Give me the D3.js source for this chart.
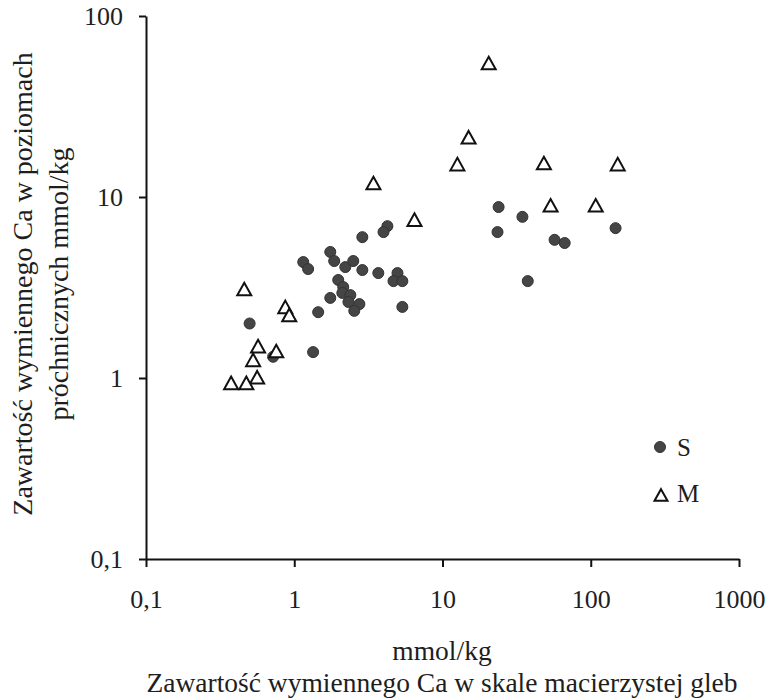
<!DOCTYPE html>
<html><head><meta charset="utf-8">
<script src="https://cdn.jsdelivr.net/npm/d3@7"></script>
<style>html,body{margin:0;padding:0;background:#fff;}svg{display:block;}</style>
</head><body>
<script>
// Series S (circles): [x, y]
const seriesS_x = [0.50,0.72,1.34,1.45,1.15,1.24,1.75,1.86,1.75,2.88,4.25,4.0,2.21,2.50,2.88,3.69,4.97,4.67,5.36,5.36,1.98,2.14,2.11,2.39,2.32,2.75,2.54,23.9,34.6,23.5,57,66.7,147,37.6];
const seriesS_y = [2.0,1.31,1.39,2.31,4.37,4.0,4.97,4.43,2.77,6.0,6.9,6.4,4.1,4.43,3.95,3.8,3.8,3.43,3.43,2.47,3.48,3.18,2.95,2.87,2.63,2.56,2.35,8.8,7.77,6.4,5.8,5.57,6.73,3.43];
// Series M (triangles)
const seriesM_x = [20.5,15.0,12.6,48.3,152,53.6,108,6.47,3.42,0.46,0.87,0.925,0.57,0.756,0.528,0.562,0.375,0.475];
const seriesM_y = [55,21.4,15.2,15.4,15.2,9.0,9.0,7.5,11.95,3.1,2.47,2.23,1.50,1.41,1.26,1.01,0.94,0.94];
const xTicks = [0.1,1,10,100,1000];
const yTicks = [0.1,1,10,100];
const seriesNames = ["S","M"];
const xTitle1 = "mmol/kg";
const xTitle2 = "Zawartość wymiennego Ca w skale macierzystej gleb";
const yTitle1 = "Zawartość wymiennego Ca w poziomach";
const yTitle2 = "próchnicznych mmol/kg";

const W = 770, H = 700;
const FONT = "'Liberation Serif','Times New Roman',serif";
const TXT = "#1e1e1e";
const svg = d3.select("body").append("svg").attr("width", W).attr("height", H)
  .style("font-family", FONT);

const x = d3.scaleLog().domain([0.1, 1000]).range([146, 739]);
const y = d3.scaleLog().domain([0.1, 100]).range([559, 16]);
const fmt = v => String(v).replace(".", ",");

const xAxis = svg.append("g").attr("transform", `translate(0,${y(0.1)})`)
  .call(d3.axisBottom(x).tickValues(xTicks).tickFormat(fmt).tickSize(8).tickPadding(23).tickSizeOuter(0));
const yAxis = svg.append("g").attr("transform", `translate(${x(0.1)},0)`)
  .call(d3.axisLeft(y).tickValues(yTicks).tickFormat(fmt).tickSize(7).tickPadding(16).tickSizeOuter(0));
[xAxis, yAxis].forEach(g => {
  g.select(".domain").attr("stroke", "#111").attr("stroke-width", 2);
  g.selectAll(".tick line").attr("stroke", "#111").attr("stroke-width", 2);
  g.selectAll(".tick text").attr("fill", TXT).style("font-size", "26px").style("font-family", FONT);
});

// S circles
const sData = seriesS_x.map((v, i) => [v, seriesS_y[i]]);
svg.append("g").selectAll("circle").data(sData).join("circle")
  .attr("cx", d => x(d[0])).attr("cy", d => y(d[1])).attr("r", 5.5)
  .attr("fill", "#454545").attr("stroke", "#333").attr("stroke-width", 1);

// M triangles
const tri = (cx, cy, s) => {
  const h = s * 0.9;
  return `M${cx},${cy - h/2}L${cx + s/2},${cy + h/2}L${cx - s/2},${cy + h/2}Z`;
};
const mData = seriesM_x.map((v, i) => [v, seriesM_y[i]]);
svg.append("g").selectAll("path").data(mData).join("path")
  .attr("d", d => tri(x(d[0]), y(d[1]), 14))
  .attr("fill", "#fff").attr("stroke", "#111").attr("stroke-width", 2).attr("stroke-linejoin", "miter");

// Legend
const lg = svg.append("g");
lg.append("circle").attr("cx", 660).attr("cy", 447).attr("r", 5.5).attr("fill", "#454545").attr("stroke", "#333");
lg.append("text").attr("x", 677).attr("y", 456).text(seriesNames[0]).attr("fill", TXT).style("font-size", "25px");
lg.append("path").attr("d", tri(661, 495, 13)).attr("fill", "#fff").attr("stroke", "#111").attr("stroke-width", 2);
lg.append("text").attr("x", 677).attr("y", 502).text(seriesNames[1]).attr("fill", TXT).style("font-size", "25px");

// Axis titles
svg.append("text").attr("x", 442).attr("y", 660).attr("text-anchor", "middle")
  .attr("fill", TXT).style("font-size", "27.5px").text(xTitle1);
svg.append("text").attr("x", 442).attr("y", 692).attr("text-anchor", "middle")
  .attr("fill", TXT).style("font-size", "27.5px").text(xTitle2);
svg.append("text").attr("transform", "translate(32,284) rotate(-90)").attr("text-anchor", "middle")
  .attr("fill", TXT).style("font-size", "28px").text(yTitle1);
svg.append("text").attr("transform", "translate(68,284) rotate(-90)").attr("text-anchor", "middle")
  .attr("fill", TXT).style("font-size", "28px").text(yTitle2);
</script>
</body></html>
